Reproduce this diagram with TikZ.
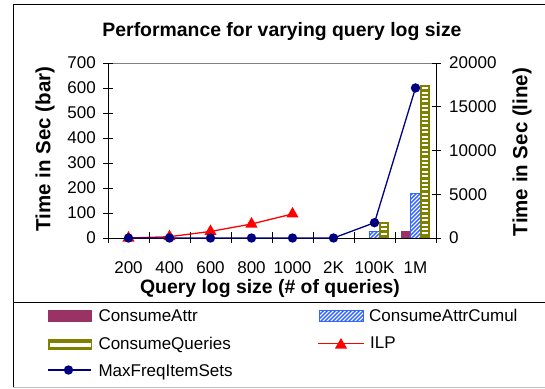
\documentclass[tikz,border=0pt]{standalone}
\usepackage{fontspec}
\setmainfont{Liberation Sans}
\usetikzlibrary{shapes.geometric}
\definecolor{attrred}{HTML}{993366}
\definecolor{queryolive}{HTML}{808000}
\definecolor{cumulblue}{HTML}{3366FF}
\definecolor{freqnavy}{HTML}{000080}

% hatched box: left, top, right, bottom
\newcommand{\hatchbox}[4]{%
  \begin{scope}
    \clip ({#1},{#2}) rectangle ({#3},{#4});
    \fill[white] ({#1},{#2}) rectangle ({#3},{#4});
    \foreach \k in {0,4,...,300}
      \draw[cumulblue, line width=1.4bp] ({(#1)-1},{(#4)+50-\k}) -- ++(52,-52);
  \end{scope}
  \draw[cumulblue, line width=0.8bp] ({#1},{#2}) rectangle ({#3},{#4});
}
% striped box: left, top, right, bottom
\newcommand{\stripebox}[4]{%
  \fill[queryolive] ({#1},{#2}) rectangle ({#3},{#4});
  \pgfmathtruncatemacro\nstripe{((#4)-(#2)-2)/4.4}
  \foreach \k in {1,...,\nstripe}
    \fill[white] ({(#1)+1.6},{(#2)+4.4*\k-2.2}) rectangle ({(#3)-1.6},{(#2)+4.4*\k-0.2});
}

\begin{document}
\begin{tikzpicture}[x=1bp, y=-1bp,
  every node/.style={inner sep=0pt, font=\fontsize{17bp}{20bp}\selectfont},
  ttl/.style={font=\bfseries\fontsize{19.4bp}{23bp}\selectfont},
  vttl/.style={font=\bfseries\fontsize{20.5bp}{24bp}\selectfont, rotate=90},
  axisline/.style={black, line width=0.9bp},
  ilpline/.style={red, line width=1.3bp},
  freqline/.style={freqnavy, line width=1.3bp},
  tri/.style={regular polygon, regular polygon sides=3, fill=red, minimum size=14bp},
  dot/.style={circle, fill=freqnavy, minimum size=9.4bp}
]
  \useasboundingbox (0,0) rectangle (545,388);
  % frame and legend box
  \draw[axisline] (13,388) -- (13,4) -- (546,4);
  \draw[axisline] (13,302) -- (546,302);
  \draw[gray!50, line width=0.9bp] (13,387) -- (546,387);

  \node[ttl, anchor=base] (title) at (282,36.7) {Performance for varying query log size};

  % plot area
  \coordinate (O) at (108,238);
  \coordinate (TL) at (108,63);
  \coordinate (TR) at (436,63);
  \coordinate (BR) at (436,238);

  % bars on the left axis
  \foreach \c/\v in {8/28}
    \fill[attrred] ({87.5+41*\c-14.25},{238-\v/4}) rectangle ({87.5+41*\c-4.75},238);
  \foreach \c/\v [evaluate=\c as \xl using 87.5+41*\c-4.75,
                  evaluate=\v as \yt using 238-\v/4] in {7/25, 8/180}
    \hatchbox{\xl}{\yt}{\xl+9.5}{238};
  \foreach \c/\v [evaluate=\c as \xl using 87.5+41*\c+4.75,
                  evaluate=\v as \yt using 238-\v/4] in {7/65, 8/612}
    \stripebox{\xl}{\yt}{\xl+9.5}{238};

  % axes and ticks (right axis in thousands)
  \draw[gray, line width=0.9bp] (TL) -- (TR);
  \draw[axisline] (TL) -- (O) -- (BR) -- (TR);
  \foreach \v in {0,100,...,700} {
    \draw[axisline] (103,{238-\v/4}) -- (113,{238-\v/4});
    \node[anchor=east] (yl-\v) at (96,{238-\v/4}) {\v};
  }
  \foreach \t/\lbl in {0/0, 5/5000, 10/10000, 15/15000, 20/20000} {
    \draw[axisline] (431.5,{238-\t*8.75}) -- (441,{238-\t*8.75});
    \node[anchor=west] (yr-\t) at (449,{238-\t*8.75}) {\lbl};
  }
  \foreach \k in {0,...,8}
    \draw[axisline] ({108+41*\k},232) -- ({108+41*\k},243);
  \foreach \lbl [count=\c] in {200,400,600,800,1000,2K,100K,1M}
    \node[anchor=base] (xl-\c) at ({87.5+41*\c},273.3) {\lbl};

  \node[ttl, anchor=base] (xttl) at (270,293) {Query log size (\# of queries)};
  \node[vttl] (lttl) at (45,149) {Time in Sec (bar)};
  \node[vttl] (rttl) at (522,152) {Time in Sec (line)};

  % lines on the right axis
  \foreach \c/\t in {1/0, 2/0.15, 3/0.75, 4/1.6, 5/2.75}
    \coordinate (ilp-\c) at ({87.5+41*\c},{238-\t*8.75});
  \draw[ilpline] (ilp-1) \foreach \c in {2,...,5} { -- (ilp-\c) };
  \foreach \c in {1,...,5} \node[tri] (ilpm-\c) at (ilp-\c) {};

  \foreach \c/\t in {1/0, 2/0, 3/0, 4/0, 5/0, 6/0, 7/1.75, 8/17.15}
    \coordinate (mf-\c) at ({87.5+41*\c},{238-\t*8.75});
  \draw[freqline] (mf-1) \foreach \c in {2,...,8} { -- (mf-\c) };
  \foreach \c in {1,...,8} \node[dot] (mfm-\c) at (mf-\c) {};

  % legend
  \fill[attrred] (48.3,310) rectangle (92.3,322.3);
  \node[anchor=base west] (lg-attr) at (98.3,321.7) {ConsumeAttr};
  \fill[queryolive] (48.3,339.3) rectangle (92.3,350);
  \fill[white] (50,342.7) rectangle (90.5,346.7);
  \node[anchor=base west] (lg-query) at (98.3,349.5) {ConsumeQueries};
  \coordinate (lfa) at (48,370);
  \coordinate (lfb) at (91,370);
  \draw[freqline] (lfa) -- (lfb);
  \node[dot] (lfm) at (68.5,370) {};
  \node[anchor=base west] (lg-freq) at (98.3,376) {MaxFreqItemSets};
  \hatchbox{319.3}{310.7}{363.3}{321.7}
  \node[anchor=base west] (lg-cumul) at (369,321.7) {ConsumeAttrCumul};
  \coordinate (lia) at (318,343.3);
  \coordinate (lib) at (364,343.3);
  \draw[ilpline] (lia) -- (lib);
  \node[tri] (lim) at (341,345) {};
  \node[anchor=base west] (lg-ilp) at (370,348.3) {ILP};
\end{tikzpicture}
\end{document}
